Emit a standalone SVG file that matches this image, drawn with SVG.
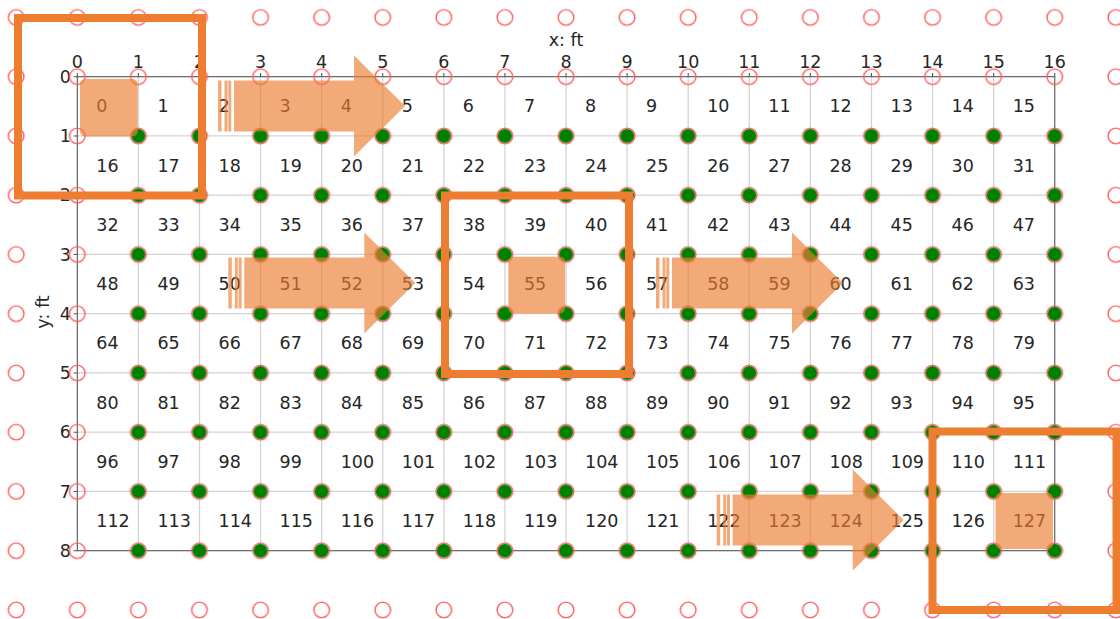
<svg xmlns="http://www.w3.org/2000/svg" width="1120" height="619" viewBox="0 0 1120 619">
<style>
text{font-family:"DejaVu Sans","Liberation Sans",sans-serif;font-size:17.5px;fill:#262626}
.tl{text-anchor:middle}
.yl{text-anchor:end}
.hl{fill:#ed7d31;fill-opacity:0.65}
.arr{fill:#ed7d31;fill-opacity:0.65}
.frame{fill:none;stroke:#ed7d31;stroke-width:8}
</style>
<defs>
<pattern id="rc" patternUnits="userSpaceOnUse" x="46.755" y="47.075" width="61.09" height="59.25">
<circle cx="30.545" cy="29.625" r="7.8" fill="none" stroke="#ff5c5c" stroke-width="1.4"/>
</pattern>
<pattern id="gc" patternUnits="userSpaceOnUse" x="46.755" y="47.075" width="61.09" height="59.25">
<circle cx="30.545" cy="29.625" r="7" fill="#008000"/>
</pattern>
</defs>
<rect width="1120" height="619" fill="#fff"/>
<g id="grid" fill="none" stroke="#d4d4d4" stroke-width="1.3">
<path d="M138.39 76.7V550.7M199.48 76.7V550.7M260.57 76.7V550.7M321.66 76.7V550.7M382.75 76.7V550.7M443.84 76.7V550.7M504.93 76.7V550.7M566.02 76.7V550.7M627.11 76.7V550.7M688.2 76.7V550.7M749.29 76.7V550.7M810.38 76.7V550.7M871.47 76.7V550.7M932.56 76.7V550.7M993.65 76.7V550.7M77.3 135.95H1054.74M77.3 195.2H1054.74M77.3 254.45H1054.74M77.3 313.7H1054.74M77.3 372.95H1054.74M77.3 432.2H1054.74M77.3 491.45H1054.74"/>
</g>
<g id="axes" stroke="#555" stroke-width="1.1" fill="none">
<rect x="77.3" y="76.7" width="977.44" height="474"/>
<path d="M77.3 73V76.7M138.39 73V76.7M199.48 73V76.7M260.57 73V76.7M321.66 73V76.7M382.75 73V76.7M443.84 73V76.7M504.93 73V76.7M566.02 73V76.7M627.11 73V76.7M688.2 73V76.7M749.29 73V76.7M810.38 73V76.7M871.47 73V76.7M932.56 73V76.7M993.65 73V76.7M1054.74 73V76.7M73.6 76.7H77.3M73.6 135.95H77.3M73.6 195.2H77.3M73.6 254.45H77.3M73.6 313.7H77.3M73.6 372.95H77.3M73.6 432.2H77.3M73.6 491.45H77.3M73.6 550.7H77.3"/>
</g>
<g id="xticks" class="tl">
<text class="tl" x="77.3" y="67.5">0</text><text class="tl" x="138.39" y="67.5">1</text><text class="tl" x="199.48" y="67.5">2</text><text class="tl" x="260.57" y="67.5">3</text><text class="tl" x="321.66" y="67.5">4</text><text class="tl" x="382.75" y="67.5">5</text><text class="tl" x="443.84" y="67.5">6</text><text class="tl" x="504.93" y="67.5">7</text><text class="tl" x="566.02" y="67.5">8</text><text class="tl" x="627.11" y="67.5">9</text><text class="tl" x="688.2" y="67.5">10</text><text class="tl" x="749.29" y="67.5">11</text><text class="tl" x="810.38" y="67.5">12</text><text class="tl" x="871.47" y="67.5">13</text><text class="tl" x="932.56" y="67.5">14</text><text class="tl" x="993.65" y="67.5">15</text><text class="tl" x="1054.74" y="67.5">16</text>
</g>
<g id="yticks">
<text class="yl" x="71" y="82.9">0</text><text class="yl" x="71" y="142.1">1</text><text class="yl" x="71" y="201.4">2</text><text class="yl" x="71" y="260.6">3</text><text class="yl" x="71" y="319.9">4</text><text class="yl" x="71" y="379.1">5</text><text class="yl" x="71" y="438.4">6</text><text class="yl" x="71" y="497.6">7</text><text class="yl" x="71" y="556.9">8</text>
</g>
<text id="xlabel" class="tl" x="566" y="46">x: ft</text>
<text id="ylabel" class="tl" transform="translate(49,312) rotate(-90)">y: ft</text>
<g id="points">
<rect x="0" y="0" width="1120" height="619" fill="url(#rc)"/>
<rect x="108.4" y="107" width="976.3" height="472.7" fill="url(#gc)"/>
</g>
<g id="cells">
<g transform="translate(0,112.3)"><text x="96.3">0</text><text x="157.4">1</text><text x="218.5">2</text><text x="279.6">3</text><text x="340.7">4</text><text x="401.8">5</text><text x="462.8">6</text><text x="523.9">7</text><text x="585">8</text><text x="646.1">9</text><text x="707.2">10</text><text x="768.3">11</text><text x="829.4">12</text><text x="890.5">13</text><text x="951.6">14</text><text x="1012.7">15</text></g>
<g transform="translate(0,171.6)"><text x="96.3">16</text><text x="157.4">17</text><text x="218.5">18</text><text x="279.6">19</text><text x="340.7">20</text><text x="401.8">21</text><text x="462.8">22</text><text x="523.9">23</text><text x="585">24</text><text x="646.1">25</text><text x="707.2">26</text><text x="768.3">27</text><text x="829.4">28</text><text x="890.5">29</text><text x="951.6">30</text><text x="1012.7">31</text></g>
<g transform="translate(0,230.8)"><text x="96.3">32</text><text x="157.4">33</text><text x="218.5">34</text><text x="279.6">35</text><text x="340.7">36</text><text x="401.8">37</text><text x="462.8">38</text><text x="523.9">39</text><text x="585">40</text><text x="646.1">41</text><text x="707.2">42</text><text x="768.3">43</text><text x="829.4">44</text><text x="890.5">45</text><text x="951.6">46</text><text x="1012.7">47</text></g>
<g transform="translate(0,290.1)"><text x="96.3">48</text><text x="157.4">49</text><text x="218.5">50</text><text x="279.6">51</text><text x="340.7">52</text><text x="401.8">53</text><text x="462.8">54</text><text x="523.9">55</text><text x="585">56</text><text x="646.1">57</text><text x="707.2">58</text><text x="768.3">59</text><text x="829.4">60</text><text x="890.5">61</text><text x="951.6">62</text><text x="1012.7">63</text></g>
<g transform="translate(0,349.3)"><text x="96.3">64</text><text x="157.4">65</text><text x="218.5">66</text><text x="279.6">67</text><text x="340.7">68</text><text x="401.8">69</text><text x="462.8">70</text><text x="523.9">71</text><text x="585">72</text><text x="646.1">73</text><text x="707.2">74</text><text x="768.3">75</text><text x="829.4">76</text><text x="890.5">77</text><text x="951.6">78</text><text x="1012.7">79</text></g>
<g transform="translate(0,408.6)"><text x="96.3">80</text><text x="157.4">81</text><text x="218.5">82</text><text x="279.6">83</text><text x="340.7">84</text><text x="401.8">85</text><text x="462.8">86</text><text x="523.9">87</text><text x="585">88</text><text x="646.1">89</text><text x="707.2">90</text><text x="768.3">91</text><text x="829.4">92</text><text x="890.5">93</text><text x="951.6">94</text><text x="1012.7">95</text></g>
<g transform="translate(0,467.8)"><text x="96.3">96</text><text x="157.4">97</text><text x="218.5">98</text><text x="279.6">99</text><text x="340.7">100</text><text x="401.8">101</text><text x="462.8">102</text><text x="523.9">103</text><text x="585">104</text><text x="646.1">105</text><text x="707.2">106</text><text x="768.3">107</text><text x="829.4">108</text><text x="890.5">109</text><text x="951.6">110</text><text x="1012.7">111</text></g>
<g transform="translate(0,527.1)"><text x="96.3">112</text><text x="157.4">113</text><text x="218.5">114</text><text x="279.6">115</text><text x="340.7">116</text><text x="401.8">117</text><text x="462.8">118</text><text x="523.9">119</text><text x="585">120</text><text x="646.1">121</text><text x="707.2">122</text><text x="768.3">123</text><text x="829.4">124</text><text x="890.5">125</text><text x="951.6">126</text><text x="1012.7">127</text></g>
</g>
<g id="highlights">
<rect id="hl-0" class="hl" x="80" y="79" width="57.7" height="57.5" rx="5"/>
<rect id="hl-55" class="hl" x="508.3" y="256.8" width="56.8" height="56.6" rx="5"/>
<rect id="hl-127" class="hl" x="995.5" y="493" width="57.5" height="56" rx="5"/>
</g>
<g id="connectors">
<g id="arrow-row0" class="arr" transform="translate(218,106)">
<rect x="0" y="-25.5" width="3.5" height="51"/><rect x="6.5" y="-25.5" width="3" height="51"/><rect x="10.3" y="-25.5" width="3" height="51"/>
<path d="M16 -25.5H136V-50.5L187 0L136 50.5V25.5H16Z"/>
</g>
<g id="arrow-row3a" class="arr" transform="translate(228.3,283)">
<rect x="0" y="-25.5" width="3.5" height="51"/><rect x="6.5" y="-25.5" width="3" height="51"/><rect x="10.3" y="-25.5" width="3" height="51"/>
<path d="M16 -25.5H136V-50.5L187 0L136 50.5V25.5H16Z"/>
</g>
<g id="arrow-row3b" class="arr" transform="translate(656,283)">
<rect x="0" y="-25.5" width="3.5" height="51"/><rect x="6.5" y="-25.5" width="3" height="51"/><rect x="10.3" y="-25.5" width="3" height="51"/>
<path d="M16 -25.5H136V-50.5L187 0L136 50.5V25.5H16Z"/>
</g>
<g id="arrow-row7" class="arr" transform="translate(716.7,520)">
<rect x="0" y="-25.5" width="3.5" height="51"/><rect x="6.5" y="-25.5" width="3" height="51"/><rect x="10.3" y="-25.5" width="3" height="51"/>
<path d="M16 -25.5H136V-50.5L187 0L136 50.5V25.5H16Z"/>
</g>
</g>
<g id="frames">
<rect id="frame-0" class="frame" x="18" y="18" width="184" height="177.5"/>
<rect id="frame-55" class="frame" x="445" y="195.5" width="184" height="178.5"/>
<rect id="frame-127" class="frame" x="932.5" y="431.5" width="184" height="178.5"/>
</g>
</svg>
